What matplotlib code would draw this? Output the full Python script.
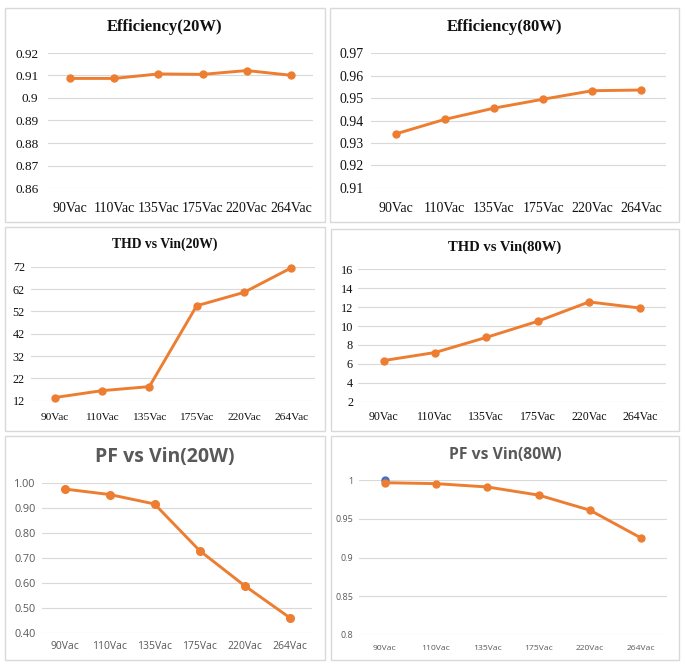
import matplotlib
matplotlib.use("Agg")
import matplotlib.pyplot as plt
from matplotlib.patches import Rectangle

# input voltages (shared x categories)
vin = ["90Vac", "110Vac", "135Vac", "175Vac", "220Vac", "264Vac"]

# measured curves
eff_20w = [0.9087, 0.9087, 0.9107, 0.9105, 0.9122, 0.9101]
eff_80w = [0.934, 0.9405, 0.9455, 0.9495, 0.9533, 0.9536]
thd_20w = [13.4, 16.5, 18.3, 54.5, 60.5, 71.5]
thd_80w = [6.35, 7.2, 8.8, 10.5, 12.55, 11.9]
pf_20w = [0.977, 0.955, 0.917, 0.730, 0.589, 0.461]
pf_80w = [0.9965, 0.9953, 0.991, 0.9805, 0.961, 0.925]
pf_80w_ref = [1.0]  # lone blue point at 90Vac

# y ticks per panel
eff_20w_ticks = [0.86, 0.87, 0.88, 0.89, 0.90, 0.91, 0.92]
eff_20w_labels = ["0.86", "0.87", "0.88", "0.89", "0.9", "0.91", "0.92"]
eff_80w_ticks = [0.91, 0.92, 0.93, 0.94, 0.95, 0.96, 0.97]
thd_20w_ticks = [12, 22, 32, 42, 52, 62, 72]
thd_80w_ticks = [2, 4, 6, 8, 10, 12, 14, 16]
pf_20w_ticks = [0.40, 0.50, 0.60, 0.70, 0.80, 0.90, 1.00]
pf_80w_ticks = [0.8, 0.85, 0.9, 0.95, 1.0]
pf_80w_labels = ["0.8", "0.85", "0.9", "0.95", "1"]

W, H = 685, 669
fig = plt.figure(figsize=(W / 100, H / 100), dpi=100)
fig.patch.set_facecolor("white")

ORANGE = "#ED7D31"
BLUE = "#4472C4"
GRID = "#D9D9D9"
SERIF = "Liberation Serif"
SANS = "Open Sans"


def px_axes(x0, y0, x1, y1):
    # pixel box (top-left origin) -> figure axes
    return fig.add_axes([x0 / W, 1 - y1 / H, (x1 - x0) / W, (y1 - y0) / H])


def frame(x0, y0, x1, y1):
    fig.patches.append(Rectangle((x0 / W, 1 - y1 / H), (x1 - x0) / W, (y1 - y0) / H,
                                 transform=fig.transFigure, fill=False,
                                 edgecolor="#D9D9D9", linewidth=1.0))


def panel(box, area, title, title_y, values, yticks, ylabels,
          font, tcolor, title_size, ysize, xsize, ypad, xpad, ms=5):
    frame(*box)
    ax = px_axes(*area)
    x = list(range(len(vin)))
    ax.plot(x, values, color=ORANGE, lw=2.1, marker="o", ms=ms, zorder=3, clip_on=False)
    ax.set_xlim(-0.5, 5.5)
    ax.set_ylim(yticks[0], yticks[-1])
    ax.set_yticks(yticks)
    ax.set_yticklabels(ylabels, fontsize=ysize, family=font, color=tcolor)
    ax.set_xticks(x)
    ax.set_xticklabels(vin, fontsize=xsize, family=font, color=tcolor)
    ax.tick_params(axis="y", length=0, pad=ypad)
    ax.tick_params(axis="x", length=0, pad=xpad)
    ax.grid(axis="y", color=GRID, lw=0.8)
    ax.set_axisbelow(True)
    for s in ax.spines.values():
        s.set_visible(False)
    cx = (box[0] + box[2]) / 2
    fig.text(cx / W, 1 - title_y / H, title, ha="center", va="center",
             family=font, fontsize=title_size, fontweight="bold", color=tcolor)
    return ax


# top row: efficiency
panel((5, 8, 325, 222), (48, 53, 313, 188), "Efficiency(20W)", 27, eff_20w,
      eff_20w_ticks, eff_20w_labels, SERIF, "#111111", 12, 9.5, 10, 7, 10)
panel((330, 8, 679, 222), (371, 53.3, 666, 187.7), "Efficiency(80W)", 27, eff_80w,
      eff_80w_ticks, [f"{t:.2f}" for t in eff_80w_ticks], SERIF, "#111111",
      12, 10, 10, 5, 10)

# middle row: THD
panel((5, 227, 325, 431), (31, 266.7, 315, 400.7), "THD vs Vin(20W)", 244, thd_20w,
      thd_20w_ticks, [str(t) for t in thd_20w_ticks], SERIF, "#111111",
      9.8, 8.7, 8.2, 4.5, 8.5)
panel((331, 229, 679, 431), (358, 269.3, 666, 401.7), "THD vs Vin(80W)", 247, thd_80w,
      thd_80w_ticks, [str(t) for t in thd_80w_ticks], SERIF, "#111111",
      10.5, 8.8, 8.6, 3.6, 7)

# bottom row: PF
panel((5, 436, 325, 660), (42, 483.3, 312, 632.7), "PF vs Vin(20W)", 457, pf_20w,
      pf_20w_ticks, [f"{t:.2f}" for t in pf_20w_ticks], SANS, "#595959",
      14, 7.8, 7.5, 4.8, 6, ms=5.5)
ax6 = panel((331, 436, 679, 660), (359, 480, 667, 635), "PF vs Vin(80W)", 455, pf_80w,
            pf_80w_ticks, pf_80w_labels, SANS, "#595959",
            11.3, 6.4, 6.1, 4.3, 7)
ax6.plot([0], pf_80w_ref, color=BLUE, marker="o", ms=5, lw=0, zorder=2, clip_on=False)

fig.savefig("out.png", dpi=100)
